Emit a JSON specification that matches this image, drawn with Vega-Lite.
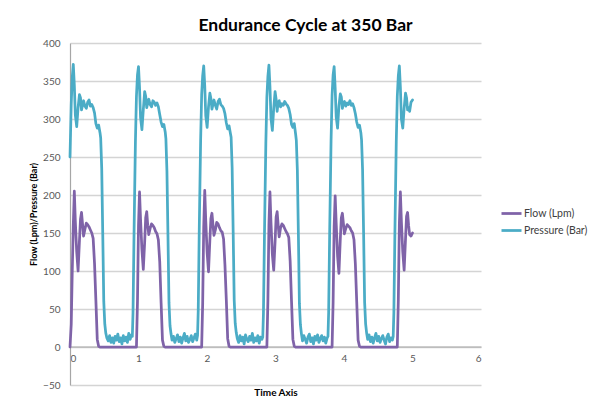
{
"$schema": "https://vega.github.io/schema/vega-lite/v6.json",
"width": 411, "height": 342,
"autosize": {"type": "none"},
"padding": {"left": 70, "top": 43, "right": 121, "bottom": 20},
"background": "white",
"title": {"text": "Endurance Cycle at 350 Bar", "font": "Lato", "fontSize": 17.5, "fontWeight": "bold", "color": "#000000", "anchor": "middle", "dx": 30, "dy": 23, "offset": 13, "baseline": "alphabetic"},
"data": {"values": [
{"t":0,"f":0,"p":250},{"t":0.018,"f":30,"p":320},{"t":0.033,"f":100,"p":355},{"t":0.048,"f":160,"p":372},{"t":0.063,"f":205,"p":345},{"t":0.078,"f":165,"p":305},{"t":0.098,"f":125,"p":290},{"t":0.118,"f":100,"p":315},{"t":0.138,"f":140,"p":332},{"t":0.153,"f":168,"p":328},{"t":0.168,"f":177,"p":312},{"t":0.183,"f":162,"p":318},{"t":0.198,"f":146,"p":324},{"t":0.218,"f":155,"p":317},{"t":0.238,"f":163,"p":314},{"t":0.258,"f":161,"p":322},{"t":0.278,"f":158,"p":325},{"t":0.298,"f":154,"p":317},{"t":0.318,"f":150,"p":319},{"t":0.338,"f":143,"p":315},{"t":0.358,"f":110,"p":308},{"t":0.378,"f":61,"p":294},{"t":0.398,"f":10,"p":288},{"t":0.418,"f":1,"p":292},{"t":0.438,"f":0,"p":282},{"t":0.448,"f":0,"p":275},{"t":0.463,"f":0,"p":235},{"t":0.478,"f":0,"p":150},{"t":0.493,"f":0,"p":60},{"t":0.508,"f":0,"p":30},{"t":0.523,"f":0,"p":18},
{"t":0.538,"f":0,"p":12},{"t":0.558,"f":0,"p":8},{"t":0.578,"f":0,"p":15},{"t":0.598,"f":0,"p":6},{"t":0.618,"f":0,"p":12},{"t":0.638,"f":0,"p":5},{"t":0.658,"f":0,"p":14},{"t":0.678,"f":0,"p":9},{"t":0.698,"f":0,"p":17},{"t":0.718,"f":0,"p":7},{"t":0.738,"f":0,"p":12},{"t":0.758,"f":0,"p":4},{"t":0.778,"f":0,"p":15},{"t":0.798,"f":0,"p":8},{"t":0.818,"f":0,"p":13},{"t":0.838,"f":0,"p":6},{"t":0.858,"f":0,"p":18},{"t":0.878,"f":0,"p":10},{"t":0.898,"f":0,"p":16},
{"t":0.910,"f":0,"p":14},{"t":0.920,"f":0,"p":45},{"t":0.935,"f":0,"p":150},{"t":0.955,"f":0,"p":270},{"t":0.970,"f":0,"p":330},{"t":0.985,"f":60,"p":358},{"t":1.000,"f":160,"p":369},{"t":1.015,"f":204,"p":342},{"t":1.030,"f":168,"p":302},{"t":1.050,"f":128,"p":286},{"t":1.070,"f":102,"p":312},{"t":1.090,"f":138,"p":336},{"t":1.105,"f":170,"p":330},{"t":1.120,"f":178,"p":315},{"t":1.135,"f":160,"p":321},{"t":1.150,"f":148,"p":326},{"t":1.170,"f":156,"p":319},{"t":1.190,"f":162,"p":316},{"t":1.210,"f":160,"p":324},{"t":1.230,"f":157,"p":322},{"t":1.250,"f":152,"p":318},{"t":1.270,"f":149,"p":321},{"t":1.290,"f":141,"p":316},{"t":1.310,"f":112,"p":306},{"t":1.330,"f":58,"p":296},{"t":1.350,"f":9,"p":290},{"t":1.370,"f":1,"p":293},{"t":1.390,"f":0,"p":283},{"t":1.400,"f":0,"p":274},{"t":1.415,"f":0,"p":232},{"t":1.430,"f":0,"p":148},{"t":1.445,"f":0,"p":58},{"t":1.460,"f":0,"p":28},{"t":1.475,"f":0,"p":17},
{"t":1.49,"f":0,"p":9},{"t":1.51,"f":0,"p":14},{"t":1.53,"f":0,"p":6},{"t":1.55,"f":0,"p":11},{"t":1.57,"f":0,"p":16},{"t":1.59,"f":0,"p":7},{"t":1.61,"f":0,"p":13},{"t":1.63,"f":0,"p":5},{"t":1.65,"f":0,"p":12},{"t":1.67,"f":0,"p":18},{"t":1.69,"f":0,"p":8},{"t":1.71,"f":0,"p":14},{"t":1.73,"f":0,"p":6},{"t":1.75,"f":0,"p":10},{"t":1.77,"f":0,"p":15},{"t":1.79,"f":0,"p":7},{"t":1.81,"f":0,"p":12},{"t":1.83,"f":0,"p":17},{"t":1.85,"f":0,"p":9},
{"t":1.862,"f":0,"p":15},{"t":1.872,"f":0,"p":48},{"t":1.887,"f":0,"p":155},{"t":1.907,"f":0,"p":272},{"t":1.922,"f":0,"p":332},{"t":1.937,"f":58,"p":357},{"t":1.952,"f":158,"p":370},{"t":1.967,"f":206,"p":344},{"t":1.982,"f":166,"p":304},{"t":2.002,"f":124,"p":289},{"t":2.022,"f":99,"p":316},{"t":2.042,"f":141,"p":334},{"t":2.057,"f":169,"p":327},{"t":2.072,"f":176,"p":313},{"t":2.087,"f":161,"p":319},{"t":2.102,"f":147,"p":325},{"t":2.122,"f":154,"p":318},{"t":2.142,"f":164,"p":313},{"t":2.162,"f":162,"p":323},{"t":2.182,"f":157,"p":326},{"t":2.202,"f":153,"p":319},{"t":2.222,"f":151,"p":317},{"t":2.242,"f":142,"p":314},{"t":2.262,"f":108,"p":307},{"t":2.282,"f":62,"p":295},{"t":2.302,"f":11,"p":287},{"t":2.322,"f":1,"p":291},{"t":2.342,"f":0,"p":281},{"t":2.352,"f":0,"p":276},{"t":2.367,"f":0,"p":236},{"t":2.382,"f":0,"p":152},{"t":2.397,"f":0,"p":62},{"t":2.412,"f":0,"p":31},{"t":2.427,"f":0,"p":19},
{"t":2.442,"f":0,"p":11},{"t":2.462,"f":0,"p":6},{"t":2.482,"f":0,"p":15},{"t":2.502,"f":0,"p":8},{"t":2.522,"f":0,"p":13},{"t":2.542,"f":0,"p":4},{"t":2.562,"f":0,"p":16},{"t":2.582,"f":0,"p":10},{"t":2.602,"f":0,"p":7},{"t":2.622,"f":0,"p":14},{"t":2.642,"f":0,"p":9},{"t":2.662,"f":0,"p":18},{"t":2.682,"f":0,"p":6},{"t":2.702,"f":0,"p":12},{"t":2.722,"f":0,"p":8},{"t":2.742,"f":0,"p":15},{"t":2.762,"f":0,"p":5},{"t":2.782,"f":0,"p":13},{"t":2.802,"f":0,"p":10},
{"t":2.814,"f":0,"p":13},{"t":2.824,"f":0,"p":44},{"t":2.839,"f":0,"p":148},{"t":2.859,"f":0,"p":268},{"t":2.874,"f":0,"p":329},{"t":2.889,"f":61,"p":356},{"t":2.904,"f":161,"p":371},{"t":2.919,"f":204,"p":343},{"t":2.934,"f":164,"p":301},{"t":2.954,"f":122,"p":285},{"t":2.974,"f":101,"p":314},{"t":2.994,"f":139,"p":336},{"t":3.009,"f":171,"p":326},{"t":3.024,"f":178,"p":310},{"t":3.039,"f":160,"p":322},{"t":3.054,"f":145,"p":324},{"t":3.074,"f":157,"p":316},{"t":3.094,"f":162,"p":320},{"t":3.114,"f":160,"p":318},{"t":3.134,"f":156,"p":323},{"t":3.154,"f":152,"p":320},{"t":3.174,"f":149,"p":318},{"t":3.194,"f":144,"p":314},{"t":3.214,"f":113,"p":306},{"t":3.234,"f":60,"p":293},{"t":3.254,"f":10,"p":289},{"t":3.274,"f":1,"p":294},{"t":3.294,"f":0,"p":280},{"t":3.304,"f":0,"p":272},{"t":3.319,"f":0,"p":233},{"t":3.334,"f":0,"p":149},{"t":3.349,"f":0,"p":57},{"t":3.364,"f":0,"p":29},{"t":3.379,"f":0,"p":17},
{"t":3.394,"f":0,"p":8},{"t":3.414,"f":0,"p":15},{"t":3.434,"f":0,"p":10},{"t":3.454,"f":0,"p":5},{"t":3.474,"f":0,"p":13},{"t":3.494,"f":0,"p":17},{"t":3.514,"f":0,"p":7},{"t":3.534,"f":0,"p":12},{"t":3.554,"f":0,"p":4},{"t":3.574,"f":0,"p":14},{"t":3.594,"f":0,"p":9},{"t":3.614,"f":0,"p":16},{"t":3.634,"f":0,"p":6},{"t":3.654,"f":0,"p":11},{"t":3.674,"f":0,"p":15},{"t":3.694,"f":0,"p":8},{"t":3.714,"f":0,"p":13},{"t":3.734,"f":0,"p":5},{"t":3.754,"f":0,"p":12},
{"t":3.766,"f":0,"p":14},{"t":3.776,"f":0,"p":46},{"t":3.791,"f":0,"p":152},{"t":3.811,"f":0,"p":271},{"t":3.826,"f":0,"p":331},{"t":3.841,"f":59,"p":358},{"t":3.856,"f":159,"p":369},{"t":3.871,"f":199,"p":341},{"t":3.886,"f":163,"p":303},{"t":3.906,"f":120,"p":288},{"t":3.926,"f":97,"p":317},{"t":3.946,"f":142,"p":333},{"t":3.961,"f":170,"p":329},{"t":3.976,"f":176,"p":314},{"t":3.991,"f":163,"p":320},{"t":4.006,"f":149,"p":323},{"t":4.026,"f":156,"p":317},{"t":4.046,"f":161,"p":321},{"t":4.066,"f":159,"p":319},{"t":4.086,"f":157,"p":324},{"t":4.106,"f":153,"p":318},{"t":4.126,"f":150,"p":320},{"t":4.146,"f":141,"p":315},{"t":4.166,"f":109,"p":307},{"t":4.186,"f":59,"p":296},{"t":4.206,"f":9,"p":289},{"t":4.226,"f":1,"p":292},{"t":4.246,"f":0,"p":282},{"t":4.256,"f":0,"p":273},{"t":4.271,"f":0,"p":234},{"t":4.286,"f":0,"p":151},{"t":4.301,"f":0,"p":59},{"t":4.316,"f":0,"p":30},{"t":4.331,"f":0,"p":18},
{"t":4.346,"f":0,"p":10},{"t":4.366,"f":0,"p":16},{"t":4.386,"f":0,"p":7},{"t":4.406,"f":0,"p":13},{"t":4.426,"f":0,"p":5},{"t":4.446,"f":0,"p":12},{"t":4.466,"f":0,"p":18},{"t":4.486,"f":0,"p":8},{"t":4.506,"f":0,"p":14},{"t":4.526,"f":0,"p":6},{"t":4.546,"f":0,"p":11},{"t":4.566,"f":0,"p":15},{"t":4.586,"f":0,"p":9},{"t":4.606,"f":0,"p":4},{"t":4.626,"f":0,"p":13},{"t":4.646,"f":0,"p":17},{"t":4.666,"f":0,"p":7},{"t":4.686,"f":0,"p":12},{"t":4.706,"f":0,"p":9},
{"t":4.718,"f":0,"p":14},{"t":4.728,"f":0,"p":45},{"t":4.743,"f":0,"p":150},{"t":4.763,"f":0,"p":270},{"t":4.778,"f":0,"p":330},{"t":4.793,"f":62,"p":357},{"t":4.808,"f":162,"p":370},{"t":4.823,"f":204,"p":342},{"t":4.838,"f":165,"p":300},{"t":4.858,"f":125,"p":288},{"t":4.878,"f":101,"p":314},{"t":4.898,"f":142,"p":334},{"t":4.913,"f":172,"p":328},{"t":4.928,"f":177,"p":312},{"t":4.943,"f":160,"p":315},{"t":4.958,"f":148,"p":310},{"t":4.978,"f":146,"p":322},{"t":5.0,"f":150,"p":325}
]},
"transform": [{"fold": ["f", "p"], "as": ["s", "v"]}],
"mark": {"type": "line", "strokeWidth": 2.75, "strokeJoin": "round", "strokeCap": "round"},
"encoding": {
  "x": {"field": "t", "type": "quantitative", "scale": {"domain": [0, 6], "nice": false},
        "axis": {"values": [0,1,2,3,4,5,6], "format": "d", "offset": -38.5, "grid": false, "ticks": false,
                 "domainColor": "#a6a6a6", "domainWidth": 1.2, "labelPadding": 7, "labelFont": "Lato", "labelFontSize": 10, "labelColor": "#595959",
                 "title": "Time Axis", "titleFont": "Lato", "titleFontSize": 10, "titleFontWeight": "bold", "titleColor": "#000000",
                 "titleY": 46, "titleBaseline": "middle", "zindex": 0}},
  "y": {"field": "v", "type": "quantitative", "scale": {"domain": [-50, 400], "nice": false},
        "axis": {"values": [-50,0,50,100,150,200,250,300,350,400], "grid": true, "gridColor": "#d4d4d4", "gridWidth": 1.3, "ticks": false,
                 "domainColor": "#a6a6a6", "domainWidth": 1.2, "labelPadding": 10, "labelFont": "Lato", "labelFontSize": 10, "labelColor": "#595959",
                 "title": "Flow (Lpm)/Pressure (Bar)", "titleFont": "Lato", "titleFontSize": 9, "titleFontWeight": "bold", "titleColor": "#000000",
                 "titleX": -37, "titleY": 171, "titleAlign": "center", "titleBaseline": "middle", "zindex": 0}},
  "color": {"field": "s", "type": "nominal", "scale": {"domain": ["f", "p"], "range": ["#7F63A8", "#4BACC6"]},
            "legend": {"orient": "none", "legendX": 430, "legendY": 159, "title": null, "padding": 0,
                       "labelExpr": "datum.label == 'f' ? 'Flow (Lpm)' : 'Pressure (Bar)'",
                       "symbolType": "stroke", "symbolSize": 400, "symbolStrokeWidth": 2.75,
                       "labelFont": "Lato", "labelFontSize": 10.5, "labelColor": "#404040", "labelOffset": 1, "rowPadding": -3}}
},
"config": {"view": {"stroke": null}}
}
